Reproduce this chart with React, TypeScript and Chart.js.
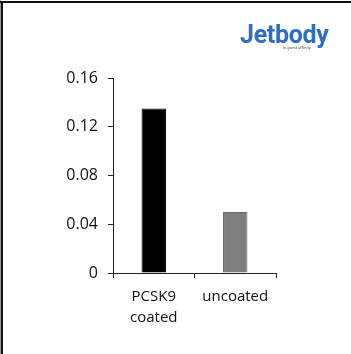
import React, { useEffect, useRef } from "react";
import { Chart, registerables } from "chart.js";

Chart.register(...registerables);

const categories: string[][] = [["PCSK9", "coated"], ["uncoated"]];
const values: number[] = [0.135, 0.05];
const barColors: string[] = ["#000000", "#7f7f7f"];
const yTicks: number[] = [0, 0.04, 0.08, 0.12, 0.16];

export default function App() {
  const ref = useRef<HTMLCanvasElement | null>(null);

  useEffect(() => {
    document.body.style.margin = "0";
    const ctx = ref.current!;
    const chart = new Chart(ctx, {
      type: "bar",
      data: {
        labels: categories,
        datasets: [
          {
            data: values,
            backgroundColor: barColors,
            borderColor: ["#000000", "#6a6a6a"],
            borderWidth: 1,
            barPercentage: 0.3,
            categoryPercentage: 1,
          },
        ],
      },
      options: {
        animation: false,
        responsive: false,
        maintainAspectRatio: false,
        layout: { padding: { left: 0, right: 75, top: 78, bottom: 0 } },
        plugins: { legend: { display: false }, tooltip: { enabled: false } },
        scales: {
          x: {
            grid: {
              display: true,
              drawOnChartArea: false,
              drawTicks: true,
              tickLength: 5,
              color: "#222",
              offset: true,
            },
            border: { display: true, color: "#222", width: 1 },
            ticks: {
              color: "#111",
              padding: 8,
              font: { family: "Open Sans", size: 15, lineHeight: 1.4 },
              maxRotation: 0,
            },
            afterFit: (s: any) => {
              s.height = 354 - 273;
            },
          },
          y: {
            min: 0,
            max: 0.16,
            afterBuildTicks: (s: any) => {
              s.ticks = yTicks.map((v) => ({ value: v }));
            },
            grid: {
              display: true,
              drawOnChartArea: false,
              drawTicks: true,
              tickLength: 5,
              color: "#222",
            },
            border: { display: true, color: "#222", width: 1 },
            ticks: {
              color: "#111",
              padding: 10,
              font: { family: "Open Sans", size: 16 },
              callback: (v: any) => (Number(v) === 0 ? "0" : String(Number(v).toFixed(2))),
            },
            afterFit: (s: any) => {
              s.width = 113;
            },
          },
        },
      },
    });
    return () => chart.destroy();
  }, []);

  return (
    <div
      style={{
        position: "absolute",
        left: 0,
        top: 0,
        width: 351,
        height: 354,
        background: "#fff",
        overflow: "hidden",
      }}
    >
      <canvas ref={ref} width={351} height={354} style={{ position: "absolute", left: 0, top: 0 }} />
      <div style={{ position: "absolute", left: 0, top: 0, width: 1, height: 354, background: "#999" }} />
      <div style={{ position: "absolute", left: 1, top: 1, width: 2, height: 353, background: "#111" }} />
      <div style={{ position: "absolute", left: 0, top: 1, width: 351, height: 2, background: "#111" }} />
      <div
        style={{
          position: "absolute",
          left: 240,
          top: 20,
          fontFamily: "Roboto, 'Open Sans', sans-serif",
          fontWeight: 700,
          fontSize: 25,
          color: "#2f6ec0",
          letterSpacing: -0.3,
          lineHeight: "30px",
        }}
      >
        Jetbody
      </div>
      <div
        style={{
          position: "absolute",
          left: 283,
          top: 45,
          fontFamily: "'Open Sans', sans-serif",
          fontSize: 4,
          color: "#444",
          whiteSpace: "nowrap",
        }}
      >
        beyond affinity
      </div>
    </div>
  );
}
